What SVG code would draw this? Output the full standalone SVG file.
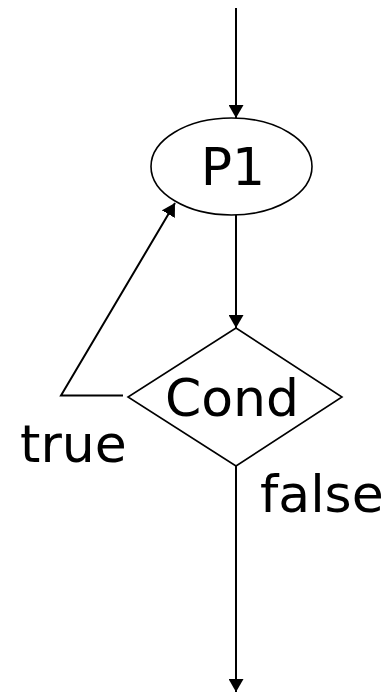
<svg xmlns="http://www.w3.org/2000/svg" width="390" height="693" viewBox="0 0 390 693">
  <style>
    .shape { fill: #ffffff; stroke: #000000; stroke-width: 1.6; }
    .edge { fill: none; stroke: #000000; stroke-width: 2; }
    .label { font-family: "DejaVu Sans", Verdana, sans-serif; font-size: 52px; fill: #000000; }
  </style>
  <defs>
    <marker id="arrow" markerWidth="14" markerHeight="15" refX="13" refY="7.5" orient="auto" markerUnits="userSpaceOnUse">
      <path d="M0,0 L13,7.5 L0,15 Z" fill="#000000"/>
    </marker>
  </defs>

  <g id="connectors">
    <line class="edge" x1="236" y1="8" x2="236" y2="118" marker-end="url(#arrow)"/>
    <line class="edge" x1="236" y1="215" x2="236" y2="328" marker-end="url(#arrow)"/>
    <polyline class="edge" points="123,395.5 61,395.5 175,203" marker-end="url(#arrow)"/>
    <line class="edge" x1="236" y1="466" x2="236" y2="692" marker-end="url(#arrow)"/>
  </g>

  <g id="p1">
    <ellipse class="shape" cx="231.5" cy="166.5" rx="80.5" ry="48.5"/>
    <text class="label" x="233" y="185" text-anchor="middle">P1</text>
  </g>

  <g id="cond">
    <polygon class="shape" points="236,328 342,397 236,466 128,397"/>
    <text class="label" x="232" y="416" text-anchor="middle">Cond</text>
  </g>

  <g id="labels">
    <text class="label" x="20" y="462">true</text>
    <text class="label" x="260" y="512">false</text>
  </g>
</svg>
